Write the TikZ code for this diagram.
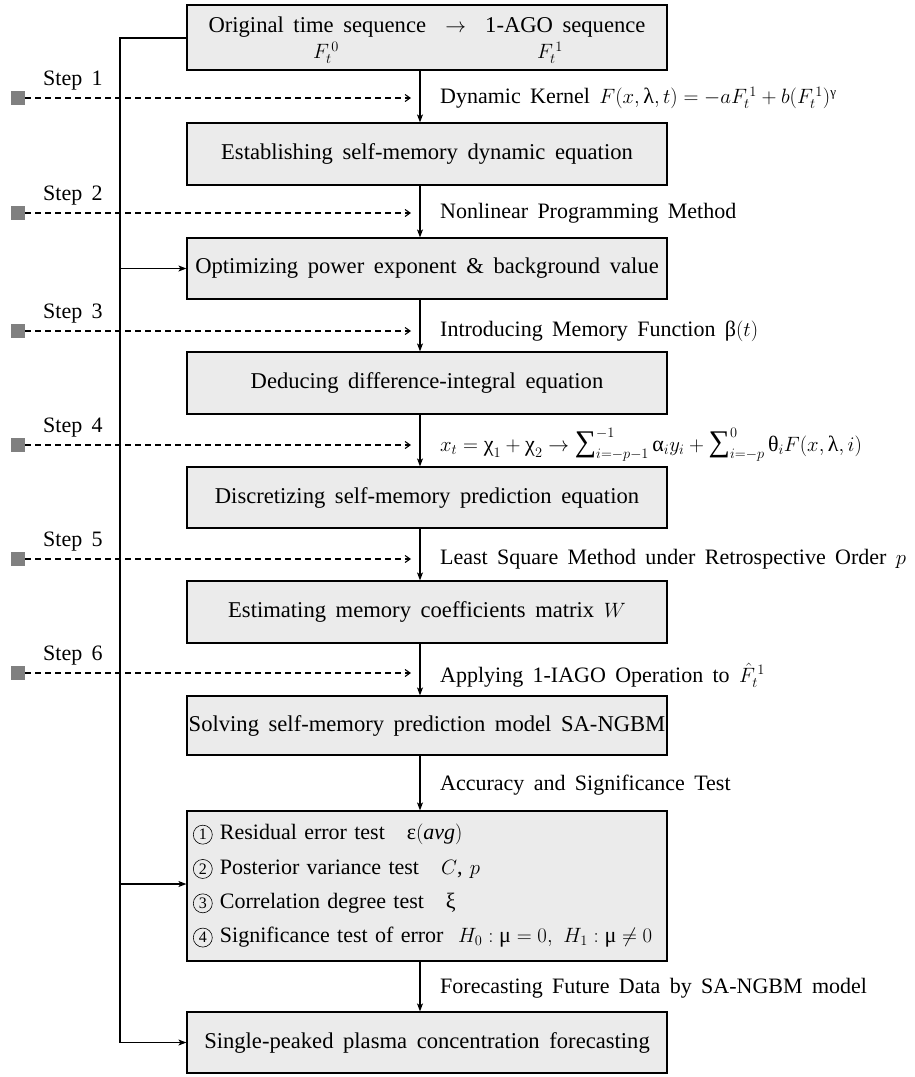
\documentclass[tikz,border=0pt]{standalone}
\usepackage{fontspec}
\setmainfont[WordSpace=1.7]{Liberation Serif}
\usetikzlibrary{arrows.meta}
\newcommand\gk[1]{\mbox{\normalfont #1}}
\newcommand\bigsum{\mathop{\mbox{\normalfont\fontsize{30}{30}\selectfont ∑}}\nolimits}
\newcommand\cnum[1]{\tikz[baseline=(cn.base)]\node[draw,circle,line width=0.6pt,inner sep=0pt,minimum size=19pt,font=\fontsize{16}{16}\selectfont](cn){#1};}
\tikzset{
  box/.style={draw, line width=1.2pt, fill=black!8, minimum width=480pt, inner sep=0pt, align=center, font=\fontsize{22.6}{26}\selectfont},
  arr/.style={line width=1.1pt, -{Stealth[length=8pt,width=6pt,inset=2pt]}},
  darr/.style={line width=1.1pt, dashed, dash pattern=on 6pt off 4pt, -{Straight Barb[length=5pt,width=7pt]}},
  sq/.style={fill=black!50, minimum size=14pt, inner sep=0pt},
  steplbl/.style={anchor=west, inner sep=0pt},
  rlbl/.style={anchor=west, inner sep=0pt},
  plain/.style={inner sep=0pt, font=\fontsize{22.6}{26}\selectfont},
}
\begin{document}
\begin{tikzpicture}[x=1pt,y=-1pt, font=\fontsize{22}{26}\selectfont]
\useasboundingbox (0,0) rectangle (915,1077);
\fill[white] (0,0) rectangle (915,1077);
\coordinate (m) at (420,0);
\coordinate (l) at (120,0);
% boxes
\node[box, minimum height=65pt] (b1) at (427,37.5) {};
\node[plain] (b1t) at (427,27) {Original time sequence \ $\rightarrow$ \ 1-AGO sequence};
\node[plain] (f0) at (326,53) {$F_t^{\,0}$};
\node[plain] (f1) at (550,53) {$F_t^{\,1}$};
\node[box, minimum height=62pt] (b2) at (427,154) {Establishing self-memory dynamic equation};
\node[box, minimum height=61pt] (b3) at (427,268.5) {Optimizing power exponent \& background value};
\node[box, minimum height=62pt] (b4) at (427,383) {Deducing difference-integral equation};
\node[box, minimum height=61pt] (b5) at (427,497.5) {Discretizing self-memory prediction equation};
\node[box, minimum height=62pt] (b6) at (427,612) {Estimating memory coefficients matrix $W$};
\node[box, minimum height=59pt] (b7) at (427,725.5) {Solving self-memory prediction model SA-NGBM};
\node[box, minimum height=150pt, text width=468pt, align=left, font=\fontsize{22}{34.3}\selectfont] (b8) at (427,886) {%
\cnum{1} Residual error test \ \ \gk{ε}$(\mathit{avg})$\\
\cnum{2} Posterior variance test \ \ $C$, $p$\\
\cnum{3} Correlation degree test \ \ \gk{ξ}\\
\cnum{4} Significance test of error \ $H_0:\gk{μ}=0,\ H_1:\gk{μ}\neq 0$};
\node[box, minimum height=61pt] (b9) at (427,1042.5) {Single-peaked plasma concentration forecasting};
% main flow arrows
\draw[arr] (b1.south -| m) -- (b2.north -| m);
\draw[arr] (b2.south -| m) -- (b3.north -| m);
\draw[arr] (b3.south -| m) -- (b4.north -| m);
\draw[arr] (b4.south -| m) -- (b5.north -| m);
\draw[arr] (b5.south -| m) -- (b6.north -| m);
\draw[arr] (b6.south -| m) -- (b7.north -| m);
\draw[arr] (b7.south -| m) -- (b8.north -| m);
\draw[arr] (b8.south -| m) -- (b9.north -| m);
% left feedback line
\coordinate (ltop) at (120,38);
\draw[line width=1.1pt] (b1.west |- ltop) -- (ltop) -- (l |- b9.west);
\draw[arr] (l |- b3.west) -- (b3.west);
\coordinate (a8) at (120,884);
\draw[arr] (a8) -- (b8.west |- a8);
\draw[arr] (l |- b9.west) -- (b9.west);
% steps
\foreach \i/\y in {1/98,2/213,3/331,4/445,5/559,6/673}{
  \node[sq] (s\i) at (18,\y) {};
  \coordinate (e\i) at (411,\y);
  \draw[darr] (s\i.east) -- (e\i);
  \node[steplbl] (st\i) at (43,\y-17) {Step \i};
}
% right labels
\node[rlbl] (r1) at (440,98) {Dynamic Kernel $F(x,\gk{λ},t)=-aF_t^{\,1}+b(F_t^{\,1})^{\gk{\fontsize{13}{13}\selectfont γ}}$};
\node[rlbl] (r2) at (440,213) {Nonlinear Programming Method};
\node[rlbl] (r3) at (440,331) {Introducing Memory Function \gk{β}$(t)$};
\node[rlbl] (r4) at (440,445) {$x_t=\gk{χ}_1+\gk{χ}_2\rightarrow\bigsum_{i=-p-1}^{-1}\gk{α}_i y_i+\bigsum_{i=-p}^{0}\gk{θ}_i F(x,\gk{λ},i)$};
\node[rlbl] (r5) at (440,559) {Least Square Method under Retrospective Order $p$};
\node[rlbl] (r6) at (440,675) {Applying 1-IAGO Operation to $\hat{F}_t^{\,1}$};
\node[rlbl] (r7) at (440,785) {Accuracy and Significance Test};
\node[rlbl] (r8) at (440,988) {Forecasting Future Data by SA-NGBM model};
\end{tikzpicture}
\end{document}
